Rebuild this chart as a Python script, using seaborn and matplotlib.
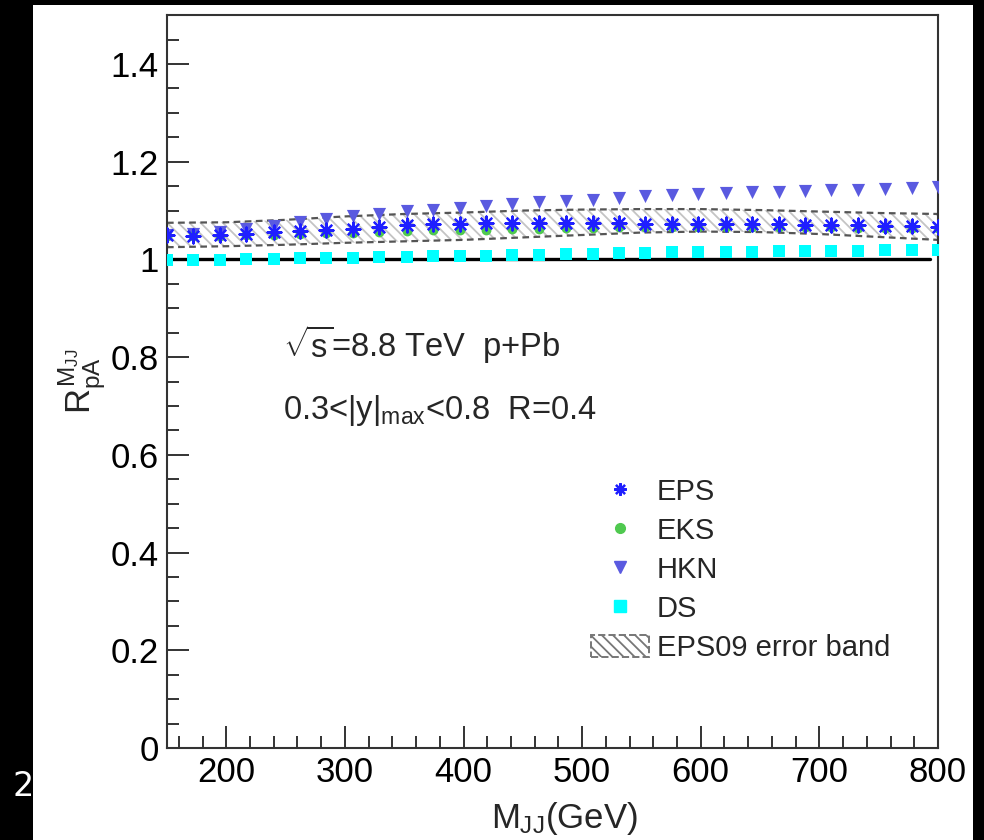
import matplotlib
matplotlib.use('Agg')
import matplotlib.pyplot as plt
import matplotlib.patches as mpatches
from matplotlib.lines import Line2D
from matplotlib.ticker import MultipleLocator, FuncFormatter
import seaborn as sns
import pandas as pd

sns.set_style('ticks')
plt.rcParams['font.family'] = ['Liberation Sans', 'DejaVu Sans']
plt.rcParams['mathtext.fontset'] = 'custom'
plt.rcParams['mathtext.rm'] = 'Liberation Sans'
plt.rcParams['mathtext.it'] = 'Liberation Sans'
plt.rcParams['mathtext.bf'] = 'Liberation Sans:bold'
plt.rcParams['hatch.linewidth'] = 1.3

# data
mjj = [150, 172, 195, 217, 240, 262, 284, 307, 329, 352,
       374, 397, 419, 441, 464, 486, 509, 531, 553, 576,
       598, 621, 643, 666, 688, 710, 733, 755, 778, 800]
eps = [1.049, 1.047, 1.050, 1.052, 1.056, 1.059, 1.061, 1.063, 1.066, 1.070,
       1.072, 1.073, 1.074, 1.074, 1.074, 1.074, 1.074, 1.074, 1.073, 1.073,
       1.073, 1.073, 1.072, 1.072, 1.071, 1.071, 1.070, 1.069, 1.068, 1.067]
eks = [1.048, 1.047, 1.048, 1.049, 1.051, 1.052, 1.054, 1.055, 1.056, 1.058,
       1.060, 1.061, 1.061, 1.062, 1.063, 1.064, 1.065, 1.066, 1.066, 1.067,
       1.067, 1.067, 1.067, 1.066, 1.066, 1.066, 1.065, 1.065, 1.064, 1.064]
hkn = [1.051, 1.052, 1.057, 1.062, 1.069, 1.076, 1.082, 1.088, 1.093, 1.099,
       1.101, 1.105, 1.110, 1.114, 1.117, 1.119, 1.122, 1.126, 1.129, 1.132,
       1.134, 1.135, 1.137, 1.139, 1.141, 1.142, 1.143, 1.145, 1.147, 1.149]
ds = [0.999, 0.999, 0.999, 1.001, 1.001, 1.002, 1.002, 1.003, 1.005, 1.005,
      1.006, 1.008, 1.008, 1.009, 1.010, 1.011, 1.012, 1.013, 1.014, 1.015,
      1.015, 1.016, 1.016, 1.017, 1.017, 1.018, 1.018, 1.019, 1.019, 1.020]

band_x = [150, 200, 250, 300, 350, 400, 450, 500, 550, 600, 650, 700, 750, 800]
band_lo = [1.025, 1.027, 1.030, 1.034, 1.037, 1.040, 1.045, 1.050, 1.055, 1.057,
           1.056, 1.052, 1.046, 1.040]
band_hi = [1.075, 1.076, 1.081, 1.088, 1.093, 1.096, 1.100, 1.102, 1.103, 1.103,
           1.101, 1.098, 1.095, 1.093]
ref_level = 1.0

df = pd.DataFrame({'mjj': mjj, 'EPS': eps, 'EKS': eks, 'HKN': hkn, 'DS': ds})

c_eps = '#1f1fff'
c_eks = '#4fc94f'
c_hkn = '#5a5ae0'
c_ds = '#00ffff'
star = (8, 2, 0)

fig = plt.figure(figsize=(9.84, 8.4), dpi=100)
fig.patch.set_facecolor('white')
ax = fig.add_axes([0.1697, 0.1095, 0.7835, 0.8725])

# black screen borders
for rect in [(0, 0, 0.0335, 1), (0, 0.994, 1, 0.006), (0.989, 0, 0.011, 1)]:
    fig.patches.append(mpatches.Rectangle(rect[:2], rect[2], rect[3], transform=fig.transFigure,
                                          facecolor='black', edgecolor='none', zorder=0))
fig.text(0.024, 1 - 787 / 840, '2', color='white', fontsize=24, ha='center', va='center',
         family='DejaVu Sans')

# error band
ax.fill_between(band_x, band_lo, band_hi, facecolor='white', edgecolor='#c4c4c4',
                hatch='\\\\\\', linewidth=0, zorder=1)
ax.plot(band_x, band_lo, ls=(0, (3, 2)), color='#555555', lw=1.6, zorder=2)
ax.plot(band_x, band_hi, ls=(0, (3, 2)), color='#555555', lw=1.6, zorder=2)

ax.axhline(ref_level, xmin=0, xmax=0.99, color='black', lw=2.4, zorder=2)

sns.scatterplot(data=df, x='mjj', y='DS', marker='s', color=c_ds, s=85, linewidth=0, ax=ax, zorder=3)
sns.scatterplot(data=df, x='mjj', y='HKN', marker='v', color=c_hkn, s=90, linewidth=0, ax=ax, zorder=3)
sns.scatterplot(data=df, x='mjj', y='EKS', marker='o', color=c_eks, s=50, linewidth=0, ax=ax, zorder=4)
sns.scatterplot(data=df, x='mjj', y='EPS', marker=star, color=c_eps, s=100, linewidth=1.6,
                edgecolor=c_eps, ax=ax, zorder=5)

ax.set_xlim(150, 800)
ax.set_ylim(0, 1.5)

ax.xaxis.set_major_locator(MultipleLocator(100))
ax.xaxis.set_minor_locator(MultipleLocator(20))
ax.yaxis.set_major_locator(MultipleLocator(0.2))
ax.yaxis.set_minor_locator(MultipleLocator(0.05))
ax.yaxis.set_major_formatter(FuncFormatter(lambda v, p: f'{v:g}'))
ax.tick_params(which='both', direction='in', top=False, right=False, colors='#333333',
               labelcolor='black', labelsize=25, width=1.4)
ax.tick_params(which='major', length=16, pad=6)
ax.tick_params(which='minor', length=8.5)
for sp in ax.spines.values():
    sp.set_linewidth(1.5)
    sp.set_color('#333333')

ax.set_xlabel(r'$M_{JJ}$(GeV)', fontsize=25)
ax.xaxis.set_label_coords(0.515, -0.071)
ax.set_ylabel(r'$R_{pA}^{M_{JJ}}$', fontsize=25, labelpad=2)

ax.text(248, 0.800, r'$\sqrt{s}$=8.8 TeV  p+Pb', fontsize=23.5, va='baseline', ha='left')
ax.text(248, 0.673, r'0.3<|y|$_{max}$<0.8  R=0.4', fontsize=23.5, va='baseline', ha='left')

handles = [
    Line2D([], [], ls='none', marker=star, color=c_eps, markersize=9, markeredgewidth=1.6),
    Line2D([], [], ls='none', marker='o', color=c_eks, markersize=7),
    Line2D([], [], ls='none', marker='v', color=c_hkn, markersize=8.5),
    Line2D([], [], ls='none', marker='s', color=c_ds, markersize=8),
    mpatches.Patch(facecolor='white', edgecolor='#777777', hatch='\\\\\\', linestyle='--', linewidth=1.4),
]
labels = ['EPS', 'EKS', 'HKN', 'DS', 'EPS09 error band']
ax.legend(handles, labels, loc='upper left', bbox_to_anchor=(0.535, 0.385), frameon=False,
          fontsize=21, handlelength=2.0, handleheight=0.8, handletextpad=0.25, labelspacing=0.38,
          borderaxespad=0)

fig.savefig('out.png', dpi=100, facecolor='white')
